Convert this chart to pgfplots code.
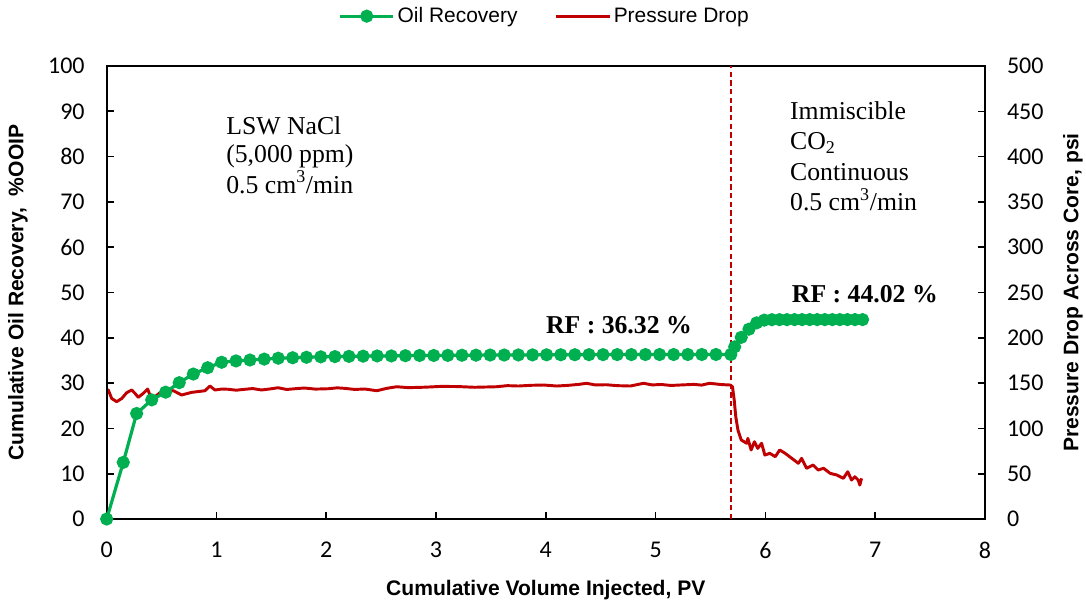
\documentclass[border=0pt]{standalone}
\usepackage{fontspec}
\usepackage{pgfplots}
\pgfplotsset{compat=1.18}
\setmainfont{Liberation Serif}
\newfontfamily\arial{Liberation Sans}
\newfontfamily\calibri{Carlito}
\definecolor{oilgreen}{RGB}{0,176,80}
\definecolor{pdred}{RGB}{192,0,0}
\pgfplotsset{
  commonaxis/.style={
    scale only axis, width=658.7pt, height=339.75pt,
    at={(0,0)}, anchor=south west,
    xmin=0, xmax=8,
    tick align=inside, major tick length=5.5pt,
    axis line style={line width=1.4pt, black},
    tick style={line width=1.2pt, black},
    tick label style={font=\calibri\fontsize{18}{20}\selectfont},
    /pgf/number format/assume math mode=true,
    label style={font=\arial\bfseries\fontsize{15.8}{18}\selectfont},
  }
}
\begin{document}
\begin{tikzpicture}
\path[use as bounding box] (-80pt,-62.25pt) rectangle (734.45pt,389.25pt);
% pressure axis (right)
\begin{axis}[commonaxis,
  ymin=0, ymax=500, ytick={0,50,...,500},
  axis y line*=right, axis x line=none,
  yticklabel style={xshift=13pt},
  ylabel={Pressure Drop Across Core, psi},
  ylabel style={at={(axis description cs:1.100,0.5)}, anchor=center, rotate=0},
]
\addplot[pdred, line width=2.2pt, line join=round] coordinates {
(0,138.7) (0.015,142.4) (0.046,133) (0.091,129.5) (0.137,133) (0.182,139.4)
(0.228,142.4) (0.258,138.7) (0.288,134.3) (0.333,138.7) (0.373,143.5) (0.394,136.9)
(0.434,134.3) (0.485,139.4) (0.546,143.2) (0.607,141.6) (0.683,136.9) (0.774,139.8)
(0.895,141.6) (0.941,146.8) (0.986,142.4) (1.05,143.5) (1.107,143.2) (1.18,142.2) (1.26,143.2)
(1.33,144.0) (1.41,142.4) (1.49,143.6) (1.56,144.9) (1.64,143.0) (1.715,143.8)
(1.8,144.6) (1.9,143.4) (2.02,143.8) (2.1,144.8) (2.17,144.2) (2.26,143.0) (2.35,143.5) (2.46,141.6)
(2.55,144.2) (2.64,146) (2.75,145.0) (2.9,145.5) (3.05,146.4) (3.2,146.2) (3.35,145.4)
(3.55,146) (3.65,147.2) (3.75,146.8) (3.87,147.6) (3.98,147.9) (4.1,146.8)
(4.2,147.5) (4.3,148.6) (4.37,149.8) (4.45,148.0) (4.55,148.2) (4.65,147.2) (4.77,146.8) (4.89,149.8) (4.97,148.0) (5.05,148.5)
(5.14,147.4) (5.22,147.9) (5.35,148.6) (5.42,147.8) (5.49,149.8) (5.6,148.4) (5.68,147.9) (5.70,146)
(5.716,131.3) (5.73,112.9) (5.75,98.2) (5.78,87.2) (5.83,83.6) (5.84,89)
(5.87,76.2) (5.90,85.3) (5.93,78) (5.965,83.6) (5.995,70.6) (6.04,72.5)
(6.09,68.8) (6.13,76.2) (6.18,72.5) (6.24,67) (6.30,61.5) (6.33,67)
(6.375,56) (6.435,59.6) (6.48,54.1) (6.53,56) (6.59,50.4) (6.65,48.6)
(6.71,44.9) (6.75,52.2) (6.785,43) (6.815,46.7) (6.845,43) (6.86,37.5) (6.876,44.9)
};
\end{axis}
% oil recovery axis (left)
\begin{axis}[commonaxis,
  ymin=0, ymax=100, ytick={0,10,...,100}, xtick={0,1,...,8},
  xtick pos=left, ytick pos=left, clip=false,
  xticklabel style={yshift=-14pt},
  yticklabel style={xshift=-13pt},
  xlabel={Cumulative Volume Injected, PV},
  xlabel style={at={(axis description cs:0.5,-0.156)}, anchor=center},
  ylabel={Cumulative Oil Recovery,\ \ \%OOIP},
  ylabel style={at={(axis description cs:-0.101,0.5)}, anchor=center},
  legend columns=2,
  legend style={draw=none, fill=none, at={(axis description cs:0.499,1.110)}, anchor=center,
    font=\arial\fontsize{15.7}{18}\selectfont,
    /tikz/every even column/.append style={column sep=26pt},
    nodes={inner sep=2pt}},
  legend image code/.code={\draw[mark repeat=2,mark phase=2,#1] plot coordinates {(0pt,0pt) (20pt,0pt) (40pt,0pt)};},
]
\addplot[pdred, dashed, line width=1.1pt, dash pattern=on 4pt off 2.5pt, forget plot] coordinates {(5.685,0) (5.685,100)};
\addplot[oilgreen, line width=2.4pt, mark=*, mark size=3.7pt, mark options={solid, fill=oilgreen, draw=none}] coordinates {
(0,0) (0.151,12.5) (0.273,23.3) (0.41,26.3) (0.537,28.0) (0.661,30.1) (0.789,32.0)
(0.92,33.4) (1.047,34.6) (1.178,34.9) (1.305,35.1) (1.435,35.3) (1.563,35.5)
(1.694,35.6) (1.82,35.7) (1.95,35.8) (2.079,35.85) (2.207,35.9) (2.336,35.95)
(2.464,36.0) (2.593,36.0) (2.721,36.05) (2.85,36.1) (2.979,36.1) (3.107,36.12)
(3.236,36.15) (3.364,36.17) (3.493,36.2) (3.621,36.2) (3.75,36.22) (3.879,36.23)
(4.007,36.25) (4.136,36.26) (4.264,36.27) (4.393,36.28) (4.521,36.29) (4.65,36.3)
(4.779,36.3) (4.907,36.31) (5.036,36.31) (5.164,36.31) (5.293,36.32) (5.421,36.32)
(5.55,36.32) (5.685,36.32) (5.72,38.0) (5.78,40.1) (5.85,41.9) (5.92,43.3)
(5.99,43.9) (6.059,44.0) (6.128,44.01) (6.196,44.01) (6.265,44.02) (6.334,44.02)
(6.403,44.02) (6.472,44.02) (6.541,44.02) (6.610,44.02) (6.678,44.02) (6.747,44.02)
(6.816,44.02) (6.885,44.02)
};
\addlegendentry{Oil Recovery}
\addlegendimage{pdred, line width=2.2pt}
\addlegendentry{Pressure Drop}
\begin{scope}[every node/.style={anchor=base west, inner sep=0pt, font=\fontsize{19.3}{22}\selectfont}]
\node at (axis cs:1.087,84.77) {LSW NaCl};
\node at (axis cs:1.087,78.59) {(5,000 ppm)};
\node at (axis cs:1.087,71.96) {0.5 cm\textsuperscript{3}/min};
\node at (axis cs:6.223,88.23) {Immiscible};
\node at (axis cs:6.223,81.6) {CO\textsubscript{2}};
\node at (axis cs:6.223,74.83) {Continuous};
\node at (axis cs:6.223,68.2) {0.5 cm\textsuperscript{3}/min};
\end{scope}
\node[anchor=base, inner sep=0pt, font=\bfseries\fontsize{19.3}{22}\selectfont] at (axis cs:4.666,41.06) {RF : 36.32 \%};
\node[anchor=base, inner sep=0pt, font=\bfseries\fontsize{19.3}{22}\selectfont] at (axis cs:6.906,47.9) {RF : 44.02 \%};
\end{axis}
\end{tikzpicture}
\end{document}
